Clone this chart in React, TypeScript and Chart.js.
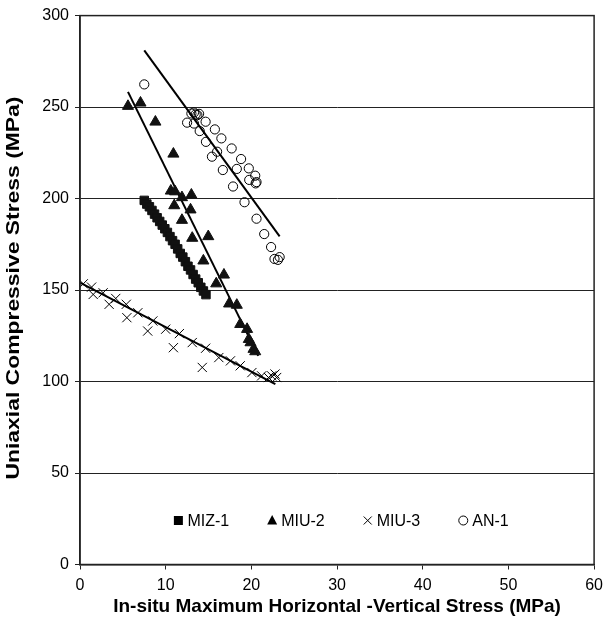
import React, { useEffect, useRef } from "react";
import { Chart, registerables } from "chart.js";

Chart.register(...registerables);

// ---- data ----
const xTicks = [0, 10, 20, 30, 40, 50, 60];
const yTicks = [0, 50, 100, 150, 200, 250, 300];

const miz1X = [7.5, 7.8, 8.1, 8.4, 8.7, 9.0, 9.3, 9.6, 9.9, 10.2, 10.5, 10.8, 11.1, 11.4, 11.7, 12.0, 12.3, 12.6, 12.9, 13.2, 13.5, 13.8, 14.1, 14.4, 14.7];
const miz1Y = [199, 197, 195.5, 193.5, 191.5, 189.5, 187.5, 185.5, 183.5, 181.5, 179.2, 177, 175, 172.5, 170, 168, 165.5, 163, 161, 158.5, 156, 154, 151.5, 149.5, 147.5];

const miu2X = [5.6, 7.06, 8.8, 10.9, 10.6, 11.1, 11.9, 13.0, 11.0, 12.9, 11.9, 13.1, 14.97, 14.4, 16.8, 15.9, 17.4, 18.3, 18.7, 19.5, 19.7, 19.9, 20.25, 20.45];
const miu2Y = [250.5, 252.3, 241.9, 224.4, 204.2, 203.8, 200.6, 202, 196.2, 193.9, 188.2, 178.4, 179.3, 166, 158.3, 153.5, 142.5, 141.8, 131.3, 128.6, 123.1, 121.3, 117.7, 116.4];

const miu3X = [0.38, 1.35, 1.54, 2.7, 3.4, 4.17, 5.4, 5.47, 6.75, 7.9, 8.5, 10.0, 10.9, 11.6, 13.1, 14.27, 14.66, 16.2, 17.56, 18.7, 20.06, 21.2, 22.0, 22.37, 22.76, 22.95];
const miu3Y = [153.4, 151.6, 147.6, 148.5, 142.2, 145.4, 142.2, 134.9, 137.6, 127.6, 133.1, 128.6, 118.5, 126.2, 121.3, 107.7, 118.2, 113.1, 111.3, 108.6, 104.9, 103.1, 102.2, 103.1, 104.1, 102.2];

const an1X = [7.5, 13.0, 13.3, 13.5, 13.7, 13.9, 12.5, 13.3, 14.66, 13.97, 15.74, 16.5, 14.7, 16.0, 15.4, 17.7, 18.8, 16.67, 18.3, 19.7, 20.45, 19.75, 20.5, 20.6, 17.86, 19.2, 20.6, 21.5, 22.3, 22.7, 23.1, 23.3];
const an1Y = [262.4, 246.5, 247, 246, 245.6, 246.3, 241.5, 241, 242, 236.9, 237.8, 232.9, 231, 225.6, 222.9, 227.4, 221.6, 215.6, 216.2, 216.5, 212.5, 210.2, 208.3, 209, 206.6, 198, 189, 180.6, 173.5, 167, 166.5, 168];

// trend lines (end points)
const an1FitX = [7.5, 23.3];
const an1FitY = [281, 179.3];
const miu2FitX = [5.6, 20.8];
const miu2FitY = [258.3, 114];
const miu3FitX = [0, 22.8];
const miu3FitY = [154, 98.6];

const legendLabels = ["MIZ-1", "MIU-2", "MIU-3", "AN-1"];
const legendStyles = ["rect", "triangle", "cross", "circle"];

const xTitle = "In-situ Maximum Horizontal -Vertical Stress (MPa)";
const yTitle = "Uniaxial Compressive Stress (MPa)";

const FONT = "'Liberation Sans', Arial, Helvetica, sans-serif";

const zip = (xs: number[], ys: number[]) => xs.map((x, i) => ({ x, y: ys[i] }));

const framePlugin = {
  id: "frame",
  afterDraw(chart: any) {
    const { ctx, chartArea } = chart;
    ctx.save();
    ctx.strokeStyle = "#222";
    ctx.lineWidth = 1.5;
    ctx.strokeRect(chartArea.left, chartArea.top, chartArea.right - chartArea.left, chartArea.bottom - chartArea.top);

    // y-axis title (stretched along its length like the reference)
    ctx.save();
    ctx.font = `bold 18px ${FONT}`;
    ctx.fillStyle = "#000";
    ctx.textAlign = "center";
    ctx.textBaseline = "middle";
    const tw = ctx.measureText(yTitle).width;
    const targetLen = 383;
    ctx.translate(14, (chartArea.top + chartArea.bottom) / 2 - 2);
    ctx.rotate(-Math.PI / 2);
    ctx.scale(targetLen / tw, 1);
    ctx.fillText(yTitle, 0, 0);
    ctx.restore();

    // legend inside plot
    ctx.font = `16px ${FONT}`;
    ctx.textBaseline = "middle";
    ctx.textAlign = "left";
    ctx.fillStyle = "#000";
    const markerW = 10;
    const gapMT = 4;
    const itemGap = 38;
    const widths = legendLabels.map((l) => markerW + gapMT + ctx.measureText(l).width);
    const total = widths.reduce((a, b) => a + b, 0) + itemGap * (legendLabels.length - 1);
    let x = (chartArea.left + chartArea.right) / 2 + 4 - total / 2;
    const y = chartArea.bottom - 44;
    legendLabels.forEach((label, i) => {
      const cx = x + markerW / 2;
      const st = legendStyles[i];
      ctx.beginPath();
      ctx.strokeStyle = "#000";
      ctx.lineWidth = 1;
      if (st === "rect") {
        ctx.fillRect(cx - 4.5, y - 4.5, 9, 9);
      } else if (st === "triangle") {
        ctx.moveTo(cx, y - 5.5);
        ctx.lineTo(cx + 5, y + 4);
        ctx.lineTo(cx - 5, y + 4);
        ctx.closePath();
        ctx.fill();
      } else if (st === "cross") {
        ctx.moveTo(cx - 4, y - 4);
        ctx.lineTo(cx + 4, y + 4);
        ctx.moveTo(cx + 4, y - 4);
        ctx.lineTo(cx - 4, y + 4);
        ctx.stroke();
      } else {
        ctx.arc(cx, y, 4.5, 0, Math.PI * 2);
        ctx.stroke();
      }
      ctx.fillText(label, x + markerW + gapMT, y + 1);
      x += widths[i] + itemGap;
    });
    ctx.restore();
  },
};

export default function App() {
  const ref = useRef<HTMLCanvasElement | null>(null);

  useEffect(() => {
    if (!ref.current) return;
    const black = "#000";
    const chart = new Chart(ref.current, {
      type: "scatter",
      data: {
        datasets: [
          {
            label: "MIZ-1",
            data: zip(miz1X, miz1Y),
            pointStyle: "rect",
            pointRadius: 6,
            backgroundColor: "#111",
            borderColor: "#111",
            borderWidth: 1,
          },
          {
            label: "MIU-2",
            data: zip(miu2X, miu2Y),
            pointStyle: "triangle",
            pointRadius: 6.4,
            backgroundColor: "#111",
            borderColor: "#111",
            borderWidth: 1,
          },
          {
            label: "MIU-3",
            data: zip(miu3X, miu3Y),
            pointStyle: "crossRot",
            pointRadius: 6.5,
            backgroundColor: black,
            borderColor: black,
            borderWidth: 1,
          },
          {
            label: "AN-1",
            data: zip(an1X, an1Y),
            pointStyle: "circle",
            pointRadius: 4.6,
            backgroundColor: "rgba(255,255,255,0)",
            borderColor: black,
            borderWidth: 1,
          },
          {
            label: "fit-AN-1",
            type: "line",
            data: zip(an1FitX, an1FitY),
            borderColor: black,
            borderWidth: 2,
            pointRadius: 0,
            showLine: true,
          },
          {
            label: "fit-MIU-2",
            type: "line",
            data: zip(miu2FitX, miu2FitY),
            borderColor: black,
            borderWidth: 2,
            pointRadius: 0,
            showLine: true,
          },
          {
            label: "fit-MIU-3",
            type: "line",
            data: zip(miu3FitX, miu3FitY),
            borderColor: black,
            borderWidth: 2,
            pointRadius: 0,
            showLine: true,
          },
        ],
      } as any,
      options: {
        animation: false,
        responsive: true,
        maintainAspectRatio: false,
        layout: { padding: { top: 13, right: 10, left: 0, bottom: 3 } },
        plugins: {
          legend: { display: false },
          tooltip: { enabled: false },
        },
        scales: {
          x: {
            type: "linear",
            min: 0,
            max: 60,
            afterBuildTicks: (s: any) => {
              s.ticks = xTicks.map((v) => ({ value: v }));
            },
            afterFit: (s: any) => {
              s.height = 53.5;
            },
            ticks: {
              color: "#000",
              font: { family: FONT, size: 16 },
              padding: 6,
              maxRotation: 0,
            },
            grid: {
              drawOnChartArea: false,
              drawTicks: true,
              tickLength: 5,
              color: "#222",
            },
            border: { color: "#222", width: 1.5 },
            title: {
              display: true,
              text: xTitle,
              color: "#000",
              font: { family: FONT, size: 19, weight: "bold" },
              padding: { top: 2, bottom: 0 },
            },
          },
          y: {
            type: "linear",
            min: 0,
            max: 300,
            afterBuildTicks: (s: any) => {
              s.ticks = yTicks.map((v) => ({ value: v }));
            },
            afterFit: (s: any) => {
              s.width = 80;
            },
            ticks: {
              color: "#000",
              font: { family: FONT, size: 16 },
              padding: 6,
            },
            grid: {
              drawTicks: true,
              tickLength: 5,
              color: "#222",
              lineWidth: 1,
            },
            border: { color: "#222", width: 1.5 },
            title: { display: false },
          },
        },
      } as any,
      plugins: [framePlugin],
    });
    return () => chart.destroy();
  }, []);

  return (
    <div style={{ position: "absolute", left: 0, top: 0, width: 609, height: 621 }}>
      <canvas ref={ref} />
    </div>
  );
}
